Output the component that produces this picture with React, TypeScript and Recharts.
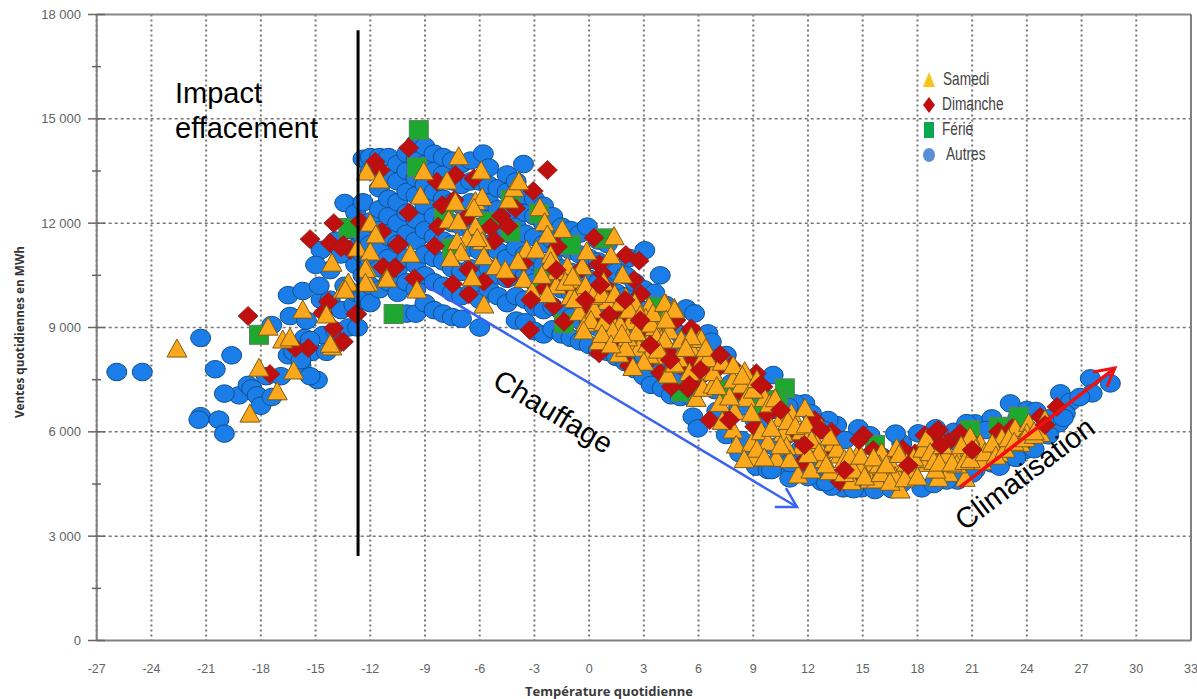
import { ScatterChart, Scatter, XAxis, YAxis, CartesianGrid, ReferenceLine } from 'recharts';

type Pair = [number, number];

const xTicks = [-27, -24, -21, -18, -15, -12, -9, -6, -3, 0, 3, 6, 9, 12, 15, 18, 21, 24, 27, 30, 33];
const yGrid = [3000, 6000, 9000, 12000, 15000];
const yTicks = [0, 1500, 3000, 4500, 6000, 7500, 9000, 10500, 12000, 13500, 15000, 16500, 18000];

const autres: Pair[] = [
  [-25.9, 7720], [-24.5, 7720], [-21.3, 8700], [-20.5, 7800], [-21.3, 6450], [-21.4, 6350], [-20.3, 6350], [-20, 5950],
  [-19.2, 7050], [-20, 7100], [-19.6, 8200], [-18.7, 7350], [-18.5, 7250], [-18.2, 7050], [-18, 6750], [-17.7, 7600],
  [-17.4, 7000], [-16.9, 7600], [-16.5, 8200], [-16.2, 8300], [-15.8, 7900], [-15.6, 8700], [-15.2, 8300], [-14.9, 7490],
  [-15.3, 7600], [-16.5, 9930], [-15.7, 10050], [-16.4, 9330], [-15.5, 9200], [-17.4, 9070], [-14.7, 9800], [-14.6, 8780],
  [-15.3, 8640], [-15.8, 8060], [-13.4, 12580], [-13.9, 11500], [-14.7, 11230], [-14.2, 10650], [-13.6, 11100], [-13.1, 11800],
  [-13.4, 10200], [-14.2, 9800], [-13.6, 9500], [-13.9, 8900], [-14.4, 8300], [-13.2, 9000], [-14.8, 10200], [-15, 10800],
  [-12.9, 9650], [-12.7, 9000],
  [-12.8, 10000], [-12.8, 10800], [-12.8, 11300], [-12.8, 11900], [-12.8, 12300], [-12.4, 9900], [-12.4, 10500], [-12.4, 11100],
  [-12.4, 11600], [-12.4, 12600], [-12.4, 13850], [-12, 9700], [-12, 10200], [-12, 10900], [-12, 11400], [-12, 12050],
  [-12, 13900], [-12, 13500], [-11.5, 10100], [-11.5, 10700], [-11.5, 11300], [-11.5, 11800], [-11.5, 12400], [-11.5, 13000],
  [-11.5, 13900], [-11, 10300], [-11, 11000], [-11, 11600], [-11, 12200], [-11, 12700], [-11, 13300], [-11, 13900],
  [-10.5, 10000], [-10.5, 10700], [-10.5, 11400], [-10.5, 12000], [-10.5, 12600], [-10.5, 13200], [-10.5, 13700],
  [-10, 9400], [-10, 10300], [-10, 11000], [-10, 11700], [-10, 12300], [-10, 12900], [-10, 13500], [-10, 14000],
  [-9.5, 9400], [-9.5, 10100], [-9.5, 10800], [-9.5, 11500], [-9.5, 12100], [-9.5, 12800], [-9.5, 13300], [-9.5, 13800], [-9.5, 14300],
  [-9, 9700], [-9, 10500], [-9, 11100], [-9, 11800], [-9, 12500], [-9, 13100], [-9, 13700], [-9, 14200],
  [-8.5, 9500], [-8.5, 10300], [-8.5, 11000], [-8.5, 11600], [-8.5, 12200], [-8.5, 12900], [-8.5, 13500], [-8.5, 14000],
  [-8, 9400], [-8, 10200], [-8, 10900], [-8, 11500], [-8, 12100], [-8, 12700], [-8, 13400], [-8, 13900],
  [-7.5, 9300], [-7.5, 10000], [-7.5, 10700], [-7.5, 11400], [-7.5, 12000], [-7.5, 12600], [-7.5, 13200], [-7.5, 13800],
  [-7, 9250], [-7, 9900], [-7, 10600], [-7, 11200], [-7, 11900], [-7, 12500], [-7, 13100], [-7, 13700],
  [-6.5, 10000], [-6.5, 10700], [-6.5, 11300], [-6.5, 11900], [-6.5, 12600], [-6.5, 13200], [-6.5, 13800],
  [-6, 9000], [-6, 9800], [-6, 10500], [-6, 11200], [-6, 11900], [-6, 12500], [-6, 13200], [-5.8, 14000],
  [-5.5, 10100], [-5.5, 10700], [-5.5, 11400], [-5.5, 12000], [-5.5, 12600], [-5.5, 13100], [-5.5, 13600],
  [-5, 9900], [-5, 10500], [-5, 11200], [-5, 11800], [-5, 12400], [-5, 13000],
  [-4.5, 9700], [-4.5, 10400], [-4.5, 11000], [-4.5, 11700], [-4.5, 12300], [-4.5, 12900], [-4.5, 13400],
  [-4, 9200], [-4, 9900], [-4, 10600], [-4, 11300], [-4, 11900], [-4, 12500], [-4, 13200],
  [-3.5, 9150], [-3.5, 9800], [-3.5, 10500], [-3.5, 11100], [-3.5, 11700], [-3.5, 12300], [-3.5, 12800], [-3.6, 13700],
  [-3, 8900], [-3, 9600], [-3, 10300], [-3, 10900], [-3, 11600], [-3, 12200], [-3, 12700],
  [-2.5, 8800], [-2.5, 9500], [-2.5, 10200], [-2.5, 10800], [-2.5, 11400], [-2.5, 12000], [-2.5, 12500],
  [-2, 8950], [-2, 9600], [-2, 10300], [-2, 10900], [-2, 11500], [-2, 12200],
  [-1.5, 8800], [-1.5, 9450], [-1.5, 10100], [-1.5, 10700], [-1.5, 11300], [-1.5, 11900],
  [-1, 8700], [-1, 9300], [-1, 10000], [-1, 10600], [-1, 11200], [-1, 11800],
  [-0.5, 8600], [-0.5, 9200], [-0.5, 9900], [-0.5, 10500], [-0.5, 11100], [-0.5, 11700],
  [0, 8500], [0, 9100], [0, 9800], [0, 10400], [0, 11000], [-0.1, 11900],
  [0.5, 8350], [0.5, 9000], [0.5, 9650], [0.5, 10300], [0.5, 10900], [0.5, 11500],
  [1, 8300], [1, 8900], [1, 9500], [1, 10200], [1, 10800], [1, 11400],
  [1.5, 8150], [1.5, 8750], [1.5, 9400], [1.5, 10000], [1.5, 10600],
  [2, 8000], [2, 8600], [2, 9200], [2, 9900], [2, 10500], [2.2, 11000],
  [2.5, 7800], [2.5, 8400], [2.5, 9000], [2.5, 9700], [2.5, 10300],
  [3, 7600], [3, 8200], [3, 8800], [3, 9500], [3, 10100], [3.05, 11220],
  [3.4, 7350], [3.5, 8000], [3.5, 8600], [3.5, 9300], [3.6, 10000], [3.9, 10500],
  [4, 7250], [4, 7800], [4, 8400], [4, 9000], [4.2, 9650],
  [4.5, 7050], [4.5, 7700], [4.5, 8300], [4.6, 8950], [5, 7000], [5, 7600], [5, 8200], [5, 8800],
  [5.32, 9549], [5.78, 9406], [6.51, 8831], [6.7, 8591], [7.52, 8208], [10.09, 7633], [5.69, 6435], [5.96, 6100],
  [7.52, 5908], [8.25, 5381], [9.17, 4998], [9.81, 4902], [11, 4902], [11, 4662], [12.74, 4566], [13.93, 4375],
  [14.94, 4375], [16.13, 4470], [18.24, 4375], [11.83, 6818], [11.28, 6818], [10.27, 6627], [13.57, 6195], [14.76, 6100],
  [14.02, 5764], [18.05, 5956], [17.14, 5668], [21.17, 6243], [22.08, 6387], [23.09, 6818], [24, 6627], [25.84, 7106],
  [26.39, 6866], [27.48, 7537], [27.58, 7106], [28.58, 7393], [25.74, 6243], [24.83, 5956], [22.08, 5093], [21.17, 4902],
  [23.91, 5477], [23, 5285], [21.72, 6052], [25.2, 6387], [26.11, 6531], [19.15, 4614], [12.37, 4806], [13.29, 4423],
  [15.67, 4327], [17.14, 4518], [10.18, 5573], [9.26, 5573], [7.43, 6339], [8.35, 5764], [9.08, 6339], [10.91, 6722],
  [13.11, 6339], [12.19, 6531], [5.6, 7000], [6, 7600], [6.3, 8100], [6.9, 7200], [7, 6600], [7.8, 7400],
  [8.2, 6700], [8.8, 7000], [9.5, 6300], [10.4, 5200], [10.8, 5900], [11.6, 5500], [12.3, 5000], [13, 5500],
  [14.4, 4600], [15.2, 4650], [16, 5300], [16.9, 4700], [17.6, 5300], [18.8, 5400], [19.8, 4800], [20.2, 5700],
  [22.8, 6100], [23.5, 6400], [24.5, 6600], [26.9, 7000], [12.9, 6050], [15.4, 5900], [16.8, 5950], [19, 6100],
  [20, 6000], [20.7, 6250], [21, 4800], [20.2, 4600], [19.6, 4600], [18.9, 4500], [16.6, 4350], [14.5, 4350],
  [13, 4550], [12, 4700], [22.5, 5000], [23.4, 5250], [24.4, 5500], [25.2, 5900], [26, 6400], [11, 5100], [10, 4900],
];

const samedi: Pair[] = [
  [-22.6, 8380], [-18.1, 7830], [-18.6, 6510], [-17.1, 7150], [-17.6, 9010], [-16.8, 8640], [-16.4, 8700], [-15.7, 9500],
  [-14.4, 9360], [-13.5, 10080], [-13.2, 10280], [-14.1, 10850], [-14.1, 8440], [-16.2, 7750], [-14.2, 8520],
  [-12.2, 13470], [-11.5, 13240], [-12.7, 11280], [-12, 12000], [-11.7, 11660], [-12, 11170], [-12.2, 10700], [-12.1, 10280],
  [-11.1, 10420], [-7.15, 13910], [-9.07, 13479], [-5.92, 13498], [-7.79, 13210], [-9.25, 12780], [-7.33, 12600], [-6.23, 12620],
  [-5.86, 12740], [-6.32, 12425], [-4.4, 12665], [-4.12, 13000], [-3.85, 13190], [-2.7, 12444], [-2.44, 12013], [-1.47, 11820],
  [-2.29, 11660], [1.37, 11610], [-9.8, 11110], [-7.7, 12090], [-7.18, 12040], [-6.23, 11900], [-6.69, 11560], [-7.24, 11467],
  [-5.86, 11467], [-6.14, 11560], [-7.02, 11150], [-7.6, 10987], [-5.77, 11035], [-5.13, 10750], [-6.41, 10430], [-11.08, 10393],
  [-12.27, 10670], [-12.27, 10270], [-13.37, 10077], [-9.44, 10077], [-5.77, 9646], [-3.58, 10384], [-3.43, 11227], [-2.9, 11227],
  [-2.11, 11083], [-2.11, 10892], [-1.19, 10750], [-1.78, 10604], [-0.37, 10750], [-0.13, 11179], [1.19, 11064], [1.83, 10508],
  [-0.74, 10365], [-0.46, 10029], [-1.01, 9886], [0.45, 9866], [2.01, 9866], [-3.12, 10029], [1, 9742], [4.21, 9675],
  [4.67, 9550], [3.29, 9598], [-0.55, 9435], [1.1, 9310], [2.29, 9167], [3.11, 9263], [4.12, 9215], [-0.19, 9119],
  [1.7, 9071], [0.54, 8592], [1.64, 8237], [2.29, 8467], [2.74, 8400], [3.2, 8525], [4.08, 8688], [5, 8640],
  [6.04, 8640], [4.03, 8180], [5.58, 8400], [0.3, 9500], [2.5, 9700], [3.6, 9000], [-1.8, 10200], [0.8, 10300],
  [-1.3, 10300], [-0.9, 10450], [-0.2, 10200], [0.2, 9900], [0.7, 9950], [1.4, 9950], [1.7, 9700], [2.2, 9500],
  [2.8, 9350], [3.4, 9100], [-0.8, 9800], [0.1, 9200], [0.8, 9150], [1.3, 8900], [2.1, 8700], [2.6, 8850],
  [3.3, 8200], [3.7, 8700], [4.4, 8900], [-0.3, 8900], [0.7, 8800], [2, 8400], [1.2, 8500], [3.5, 9400],
  [-3.9, 10900], [-4.6, 10650], [-2.6, 10500], [-2.3, 9950],
  [4.13, 9693], [4.68, 9500], [4.22, 9214], [4.13, 8639], [5.05, 8639], [6.15, 8658], [5.6, 8735], [6.24, 8112],
  [6.15, 7729], [4.59, 7920], [4.32, 7633], [5.87, 6962], [6.24, 7250], [6.79, 7345], [7.16, 6818], [7.89, 7489],
  [8.53, 7729], [8.35, 7345], [8.62, 6962], [9.63, 6962], [7.98, 6579], [8.9, 6531], [7.89, 6052], [8.07, 5620],
  [8.9, 5668], [9.44, 6004], [10.54, 6387], [11.09, 6531], [11.83, 6674], [10.64, 5956], [11.64, 6004], [11.64, 5573],
  [10.82, 5573], [10.27, 5237], [8.99, 5237], [12.74, 6100], [12.47, 5668], [13.38, 5668], [13.75, 5333], [11.46, 4758],
  [12.16, 4902], [13.2, 4854], [14.76, 5381], [14.39, 4566], [15.3, 5000], [15.4, 4614], [16.04, 5400], [16.86, 5525],
  [16.68, 4950], [16.77, 4710], [15.76, 4614], [17.87, 4806], [17.59, 4902], [18.6, 5573], [18.6, 5093], [19.52, 5333],
  [20.16, 5333], [19.7, 4806], [19.15, 4662], [17.05, 4327], [20.89, 5525], [21.44, 5668], [22, 5333], [22.63, 5812],
  [23.36, 6100], [24.1, 6243], [24.74, 5956], [23.64, 5668], [20.62, 4662], [21.53, 5141], [22.45, 5381], [20.16, 5050],
  [20.89, 5860], [24, 5956], [14.9, 4950], [15.9, 5050], [18.2, 5200], [19, 4900], [17.4, 5100], [14, 4800],
  [12.9, 5200], [11, 5200], [9.8, 5700], [7.3, 6300], [6.8, 7700], [7.7, 7000], [9, 7200], [3, 8000],
  [2.4, 7850], [1.8, 8800], [3.8, 8350], [4.9, 8100], [5.5, 7700],
  [6.5, 8100], [7.3, 8000], [7.9, 7900], [8.4, 7600], [9.2, 7500], [9.9, 6800], [10.2, 6950], [10.9, 6300],
  [11.3, 6150], [11.9, 6200], [12.2, 5750], [12.6, 5400], [13, 5050], [13.6, 5500], [14, 5200], [14.3, 5300],
  [14.5, 4900], [14.9, 5300], [15.1, 4700], [15.6, 5250], [16, 4800], [16.3, 5050], [16.5, 4550], [17, 5350],
  [17.3, 4650], [17.8, 5250], [18, 4700], [18.3, 5500], [18.5, 5800], [18.7, 5400], [18.9, 5150], [19.2, 5100],
  [19.4, 5600], [19.9, 5100], [20.4, 5600], [20.6, 5150], [20.9, 5200], [21.2, 5500], [21.7, 5400], [22.1, 5650],
  [22.3, 5300], [22.8, 5500], [23, 5800], [23.3, 5700], [23.9, 5800], [24.4, 5900], [25, 6350], [24.4, 6000],
  [10, 6100], [9.2, 5500], [8.5, 5200], [9.6, 5250], [10.5, 5600], [12, 5350], [13.2, 5850], [7, 7300],
  [6.4, 8400], [5.3, 8400], [4.7, 7950],
];

const dimanche: Pair[] = [
  [-9.89, 14169], [-11.73, 13767], [-11.45, 13527], [-2.29, 13527], [-7.33, 13383], [-6.32, 13287], [-8.34, 13192], [-3.06, 12923],
  [-8.06, 12520], [-4.03, 12425], [-9.89, 12300], [-7.4, 12665], [-8.28, 11898], [-6.78, 12137], [-4.82, 12205], [-4.44, 11917],
  [-5.41, 11879], [-5.19, 11495], [0.27, 11582], [-10.44, 11400], [-8.47, 11342], [-1.74, 11323], [-12.55, 12042], [-11.36, 11754],
  [2.01, 11083], [2.74, 10920], [-11.27, 10729], [-10.63, 10729], [-6.6, 10671], [-9.58, 10412], [-4.44, 10412], [-7.48, 10250],
  [-5.77, 10317], [-6.6, 9953], [-2.44, 10125], [-1.56, 10269], [0.73, 10556], [1, 10125], [2.47, 10365], [2.84, 9962],
  [-1.93, 9627], [-12.73, 9387], [-1.38, 9167], [-3.25, 8927], [-13.47, 8592], [1.55, 8659], [0.55, 8256], [4.76, 9215],
  [5.58, 8927], [-13.47, 11371], [-13.1, 11227], [-3.58, 10844], [0.55, 10825], [0, 9502],
  [-18.7, 9330], [-15.3, 11540], [-14.2, 11430], [-14, 12000], [-13.6, 11310], [-14.3, 9740], [-12.8, 9390], [-14.6, 9420],
  [-14, 8980], [-13.6, 8580], [-15.4, 8410], [-16.1, 8410], [-17.5, 7660], [-11.3, 10740], [-10.7, 10700], [-10.5, 11370],
  [7.16, 8208], [5.6, 8016], [4.5, 7297], [5.42, 7250], [6.97, 7777], [6.61, 6339], [9.17, 7681], [9.54, 7297],
  [4.68, 9166], [5.6, 8974], [12.37, 6339], [13.29, 6004], [15.03, 5908], [19.15, 6052], [19.24, 5764], [20.34, 5956],
  [24.74, 6435], [25.65, 6722], [11.73, 5141], [13.75, 4566], [15.58, 5477], [17.87, 5381], [19.7, 5716], [22.45, 6004],
  [9.08, 6147], [7.61, 6387], [1.4, 9500], [2, 9300], [3, 9000], [-0.4, 10700], [-1, 10100], [0.3, 9200],
  [1.8, 8300], [3.4, 8100], [4.3, 8300], [7.8, 7900], [8.4, 7100], [9.8, 6500], [11.3, 5950], [12.8, 5300],
  [14.2, 5000], [16.4, 5200], [17.2, 5500], [18.4, 5900], [18.5, 5450], [21, 5700], [23.2, 6100], [24.1, 5800],
  [3.9, 7700], [6, 7500], [2.2, 7900], [5, 7900],
];

// Sundays that sit on top of the Saturday triangles in the picture
const dimancheDessus: Pair[] = [
  [0.6, 10220], [1.97, 9790], [2.8, 9210], [1.1, 9360], [-0.2, 9790], [3.35, 8500], [4.45, 8065], [5.5, 7350],
  [7.2, 8210], [6.1, 7780], [7.7, 6340], [9.4, 7350], [12.7, 6050], [11.8, 5620], [14.8, 5760], [19, 6000],
  [19.3, 5620], [17.5, 5040], [21, 5480], [25, 6195], [14, 4900], [10.5, 6630], [-1.8, 10650], [-3.2, 9790],
];

const ferie: Pair[] = [
  [-9.34, 14677], [-9.44, 13604], [-10.72, 9387], [-13.2, 11860], [-18.1, 8790], [-4.31, 11754], [-1, 11371], [0.81, 11563],
  [-4.3, 12665], [-2.75, 12281], [-5.5, 12042], [-7.97, 12186], [-7.51, 11275], [-2.48, 10413], [-1.38, 9119], [3.66, 9598],
  [2.84, 8735], [10.73, 7250], [10.36, 6914], [9.54, 6674], [5.05, 7154], [7.7, 7200], [20.89, 6052], [23.55, 6435],
  [15.67, 5620], [22.45, 6147],
];

const effacementLine: Pair[] = [[-12.67, 17550], [-12.67, 2430]];
const chauffageArrow: Pair[] = [[-9, 10220], [11.4, 3838]];
const chauffageHead: Pair[] = [[10.18, 3838], [11.4, 3838], [10.79, 4384]];
const climArrow: Pair[] = [[20.33, 4413], [28.83, 7834]];
const climHead: Pair[] = [[27.62, 7719], [28.83, 7834], [28.39, 7288]];

const toRows = (pairs: Pair[]) => pairs.map(([t, v]) => ({ t, v }));

const formatK = (v: number) => (v >= 1000 ? `${Math.floor(v / 1000)} ${String(v % 1000).padStart(3, '0')}` : String(v));

const Ellipse = ({ cx, cy }: any) => <ellipse cx={cx} cy={cy} rx={10} ry={8.8} fill="#1b7de8" stroke="#10508f" strokeWidth={1} />;
const Triangle = ({ cx, cy }: any) => (
  <path d={`M${cx} ${cy - 10}L${cx + 10} ${cy + 8}L${cx - 10} ${cy + 8}Z`} fill="#fba81c" stroke="#7c5c18" strokeWidth={1} />
);
const Diamond = ({ cx, cy }: any) => (
  <path d={`M${cx} ${cy - 9.5}L${cx + 10} ${cy}L${cx} ${cy + 9.5}L${cx - 10} ${cy}Z`} fill="#bf0f0f" stroke="#8c2020" strokeWidth={0.8} />
);
const Square = ({ cx, cy }: any) => (
  <rect x={cx - 9.5} y={cy - 9.5} width={19} height={19} fill="#1da92f" stroke="#5c7f5c" strokeWidth={1} />
);
const NoMark = () => null;

const YTick = ({ y, payload }: any) => {
  const major = payload.value % 3000 === 0;
  return (
    <g>
      <line x1={major ? 88 : 92} x2={major ? 105 : 101} y1={y} y2={y} stroke="#666" strokeWidth={1.5} />
      {major && (
        <text x={81} y={y + 4.5} textAnchor="end" fontSize={13} fill="#636363" fontFamily="Liberation Sans">
          {formatK(payload.value)}
        </text>
      )}
    </g>
  );
};

const legendItems = [
  { name: 'Samedi', color: '#f6c51a', left: 24, d: 'M10 2L16 17L4 17Z' },
  { name: 'Dimanche', color: '#c00d12', left: 23, d: 'M10 2L16 10L10 18L4 10Z' },
  { name: 'Férié', color: '#0aa650', left: 23, d: 'M5 2H15V18H5Z' },
  { name: 'Autres', color: '#5a8fd8', left: 27, d: 'M10 3A6 7 0 1 1 10 17A6 7 0 1 1 10 3Z' },
];

const overlayText = { position: 'absolute', fontFamily: 'Liberation Sans', color: '#000', whiteSpace: 'nowrap' } as const;

function lineSeries(pairs: Pair[], stroke: string, strokeWidth: number) {
  return (
    <Scatter
      data={toRows(pairs)}
      line={{ stroke, strokeWidth }}
      shape={NoMark}
      isAnimationActive={false}
    />
  );
}

export default function App() {
  return (
    <div style={{ position: 'fixed', left: 0, top: 0, width: 1197, height: 699, background: '#fff', overflow: 'hidden' }}>
      <ScatterChart width={1197} height={699} margin={{ top: 14.5, right: 6, bottom: 0, left: 0 }}>
        <CartesianGrid horizontal={false} verticalValues={xTicks} stroke="#777" strokeWidth={2} strokeDasharray="2 3" />
        <CartesianGrid vertical={false} horizontalValues={yGrid} stroke="#777" strokeWidth={1.5} strokeDasharray="3 3" />
        <XAxis
          type="number"
          dataKey="t"
          domain={[-27, 33]}
          ticks={xTicks}
          interval={0}
          height={58.5}
          tickLine={false}
          tickMargin={18}
          tick={{ fontSize: 12.5, fill: '#636363', fontFamily: 'Liberation Sans' }}
          axisLine={{ stroke: '#808080', strokeWidth: 2 }}
        />
        <YAxis
          type="number"
          dataKey="v"
          domain={[0, 18000]}
          ticks={yTicks}
          interval={0}
          width={96.7}
          tickLine={false}
          tick={YTick}
          axisLine={{ stroke: '#808080', strokeWidth: 2 }}
        />
        <ReferenceLine y={18000} stroke="#888" strokeWidth={2} />
        <ReferenceLine x={33} stroke="#808080" strokeWidth={2} />
        <Scatter name="Autres" data={toRows(autres)} shape={Ellipse} isAnimationActive={false} />
        <Scatter name="Férié" data={toRows(ferie)} shape={Square} isAnimationActive={false} />
        <Scatter name="Dimanche" data={toRows(dimanche)} shape={Diamond} isAnimationActive={false} />
        <Scatter name="Samedi" data={toRows(samedi)} shape={Triangle} isAnimationActive={false} />
        <Scatter name="Dimanche dessus" data={toRows(dimancheDessus)} shape={Diamond} isAnimationActive={false} />
        {lineSeries(effacementLine, '#000', 3)}
        {lineSeries(chauffageArrow, '#3a63f0', 2.5)}
        {lineSeries(chauffageHead, '#3a63f0', 2.5)}
        {lineSeries(climArrow, '#f01010', 3.5)}
        {lineSeries(climHead, '#f01010', 3)}
      </ScatterChart>

      <div style={{ ...overlayText, left: 175, top: 76, fontSize: 29, lineHeight: '35px' }}>
        Impact
        <br />
        effacement
      </div>
      <div style={{ ...overlayText, left: 553, top: 412, fontSize: 29, transform: 'translate(-50%,-50%) rotate(31deg)' }}>Chauffage</div>
      <div style={{ ...overlayText, left: 1025, top: 474, fontSize: 29, transform: 'translate(-50%,-50%) rotate(-37deg)' }}>Climatisation</div>

      <div style={{ ...overlayText, left: 609, top: 684, fontFamily: 'Open Sans', fontWeight: 700, fontSize: 13, lineHeight: '14px', color: '#3a3a3a', transform: 'translateX(-50%)' }}>
        Température quotidienne
      </div>
      <div
        style={{
          ...overlayText,
          left: 19,
          top: 332,
          fontFamily: 'Open Sans',
          fontWeight: 700,
          fontSize: 11.8,
          color: '#333',
          transform: 'translate(-50%,-50%) rotate(-90deg)',
        }}
      >
        Ventes quotidiennes en MWh
      </div>

      <div style={{ position: 'absolute', left: 919, top: 69 }}>
        {legendItems.map((item) => (
          <div key={item.name} style={{ position: 'relative', height: 25 }}>
            <svg width={20} height={20} style={{ position: 'absolute', left: 0, top: 1 }}>
              <path d={item.d} fill={item.color} />
            </svg>
            <span
              style={{
                position: 'absolute',
                left: item.left,
                top: 0,
                fontFamily: 'Liberation Sans',
                fontSize: 18,
                color: '#444',
                whiteSpace: 'nowrap',
                transform: 'scaleX(0.76)',
                transformOrigin: 'left top',
              }}
            >
              {item.name}
            </span>
          </div>
        ))}
      </div>
    </div>
  );
}
